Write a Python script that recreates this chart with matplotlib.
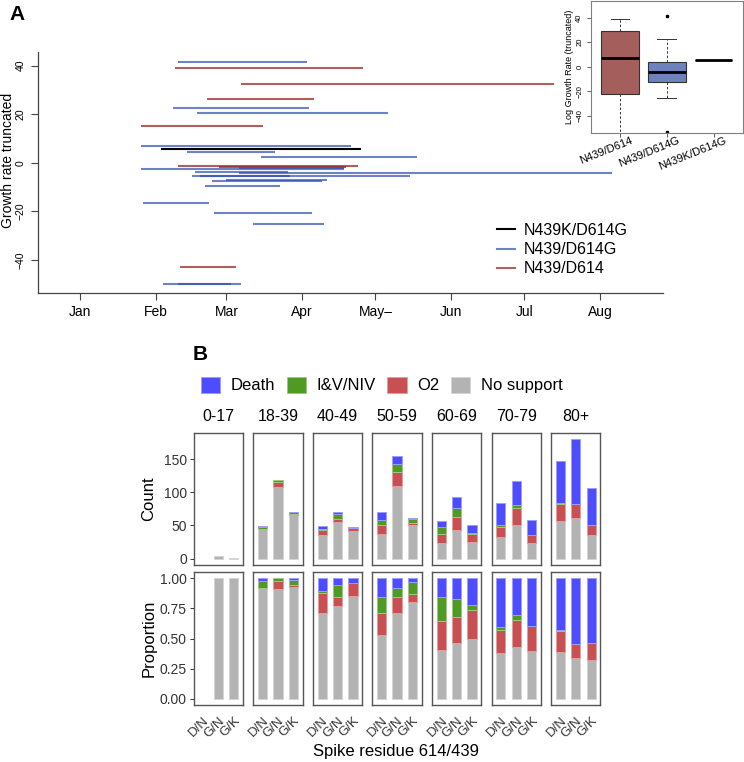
import numpy as np
import pandas as pd
import matplotlib
matplotlib.use("Agg")
import matplotlib.pyplot as plt
import matplotlib.dates as mdates
import matplotlib.transforms as mtrans
from matplotlib.lines import Line2D
from matplotlib.patches import Patch

plt.rcParams['font.family'] = ['Liberation Sans', 'DejaVu Sans']

W, H = 744, 762

def box(l, t, r, b):
    # pixel box (left, top, right, bottom) -> figure fraction rect
    return [l / W, 1 - b / H, (r - l) / W, (b - t) / H]

# ---------------- panel A data ----------------
seg_start = ["2020-02-10", "2020-02-09", "2020-03-07", "2020-02-22", "2020-02-08",
             "2020-02-18", "2020-01-26", "2020-01-26", "2020-02-03", "2020-02-14",
             "2020-03-15", "2020-02-10", "2020-02-27", "2020-01-26", "2020-03-06",
             "2020-02-17", "2020-03-06", "2020-02-16", "2020-02-19", "2020-03-01",
             "2020-02-24", "2020-02-21", "2020-01-27", "2020-02-25", "2020-03-12",
             "2020-02-11", "2020-02-04", "2020-02-10"]
seg_end = ["2020-04-03", "2020-04-26", "2020-07-13", "2020-04-06", "2020-04-04",
           "2020-05-06", "2020-03-16", "2020-04-21", "2020-04-25", "2020-03-21",
           "2020-05-18", "2020-04-24", "2020-04-19", "2020-04-18", "2020-04-18",
           "2020-03-26", "2020-08-06", "2020-05-15", "2020-03-27", "2020-04-11",
           "2020-04-09", "2020-03-23", "2020-02-23", "2020-04-05", "2020-04-10",
           "2020-03-05", "2020-03-07", "2020-03-03"]
seg_rate = [41.6, 39.1, 32.5, 26.2, 22.6,
            20.5, 15.2, 7.0, 5.5, 4.5,
            2.5, -1.3, -1.8, -2.4, -2.0,
            -4.0, -4.4, -5.3, -5.6, -6.9,
            -7.3, -9.5, -16.6, -20.8, -25.4,
            -42.8, -50.0, -50.1]
seg_group = ["N439/D614G", "N439/D614", "N439/D614", "N439/D614", "N439/D614G",
             "N439/D614G", "N439/D614", "N439/D614G", "N439K/D614G", "N439/D614G",
             "N439/D614G", "N439/D614", "N439/D614", "N439/D614G", "N439/D614G",
             "N439/D614G", "N439/D614G", "N439/D614G", "N439/D614G", "N439/D614G",
             "N439/D614G", "N439/D614G", "N439/D614G", "N439/D614G", "N439/D614G",
             "N439/D614", "N439/D614G", "N439/D614G"]

lineages = ["N439K/D614G", "N439/D614G", "N439/D614"]
lineage_col = {"N439K/D614G": (0, 0, 0, 1.0),
               "N439/D614G": (0.19, 0.31, 0.69, 0.7),
               "N439/D614": (0.59, 0.16, 0.16, 0.75)}

# inset boxplot (as shown, truncated)
box_labels = ["N439/D614", "N439/D614G", "N439K/D614G"]
box_med = [7.1, -4.6, 5.5]
box_q1 = [-22.3, -12.7, 5.5]
box_q3 = [29.4, 3.6, 5.5]
box_lo = [-60.0, -25.3, 5.5]
box_hi = [39.2, 22.4, 5.5]
box_out = [[], [41.6, -53.0], []]
box_fill = ["#A45F5C", "#6F82C0", "#000000"]

# ---------------- panel B data ----------------
ages = ["0-17", "18-39", "40-49", "50-59", "60-69", "70-79", "80+"]
variants = ["D/N", "G/N", "G/K"]
no_support = [[0, 4, 1], [45, 108, 66], [35, 55, 41], [37, 110, 50],
              [23, 43, 25], [32, 50, 23], [57, 62, 35]]
o2 = [[0, 0, 0], [0, 7, 1], [8, 5, 5], [13, 20, 4],
      [14, 20, 12], [16, 27, 12], [26, 21, 15]]
iv_niv = [[0, 0, 0], [3, 3, 3], [1, 7, 0], [9, 12, 6],
          [11, 14, 2], [2, 4, 0], [1, 0, 0]]
death = [[0, 0, 0], [1, 0, 1], [5, 4, 2], [11, 12, 2],
         [9, 16, 11], [34, 36, 23], [63, 98, 57]]

outcomes = ["No support", "O2", "I&V/NIV", "Death"]
outcome_col = {"No support": "#B3B3B3", "O2": "#C85052",
               "I&V/NIV": "#4F9A24", "Death": "#4D4DFF"}
outcome_val = {"No support": no_support, "O2": o2, "I&V/NIV": iv_niv, "Death": death}

def lighter(c, f=0.45):
    r, g, b = matplotlib.colors.to_rgb(c)
    return (r + (1 - r) * f, g + (1 - g) * f, b + (1 - b) * f)

fig = plt.figure(figsize=(W / 100, H / 100), dpi=100)

# ================= A =================
ax = fig.add_axes(box(38, 52, 663, 293))
t0 = mdates.date2num(pd.Timestamp("2020-01-01"))
xs = mdates.date2num(pd.to_datetime(seg_start))
xe = mdates.date2num(pd.to_datetime(seg_end))
for g in ["N439/D614", "N439/D614G", "N439K/D614G"]:
    idx = [i for i, s in enumerate(seg_group) if s == g]
    ax.hlines([seg_rate[i] for i in idx], xs[idx], xe[idx],
              colors=[lineage_col[g]], lw=1.5)

ax.set_xlim(t0 - 17.2, t0 + 238.8)
ax.set_ylim(-53.6, 45.6)
months = pd.date_range("2020-01-01", "2020-08-01", freq="MS")
ax.set_xticks(mdates.date2num(months))
ax.set_xticklabels(["Jan", "Feb", "Mar", "Apr", "May\u2013", "Jun", "Jul", "Aug"], fontsize=10)
ax.set_xticks(mdates.date2num(pd.date_range("2020-01-15", "2020-08-15", freq="SMS")[1::2]), minor=True)
ax.set_yticks([-40, -20, 0, 20, 40])
ax.tick_params(axis="x", which="both", length=5, width=0.8, pad=3.5, color="#444444")
ax.tick_params(axis="y", length=5, width=0.8, pad=4, labelsize=7.5, labelrotation=90, color="#444444")
for lbl in ax.get_yticklabels():
    lbl.set_va("center")
for s in ["top", "right"]:
    ax.spines[s].set_visible(False)
for s in ["left", "bottom"]:
    ax.spines[s].set_color("#444444")
    ax.spines[s].set_linewidth(0.9)
ax.set_ylabel("Growth rate truncated", fontsize=10)
ax.yaxis.set_label_coords((15 - 38) / 625, (293 - 160) / 241)

leg_handles = [Line2D([], [], color=lineage_col[g], lw=1.5) for g in lineages]
ax.legend(leg_handles, lineages, loc="upper left", bbox_to_anchor=(497 / W, 1 - 223 / H),
          bbox_transform=fig.transFigure, frameon=False, fontsize=11.5,
          handlelength=1.1, handletextpad=0.6, labelspacing=0.26,
          borderpad=0, borderaxespad=0)

fig.text(17 / W, 1 - 14 / H, "A", fontsize=15, fontweight="bold", ha="center", va="center")

# inset boxplot
ai = fig.add_axes(box(591, 1, 742.7, 132.7))
stats = []
for i in range(3):
    stats.append(dict(med=box_med[i], q1=box_q1[i], q3=box_q3[i],
                      whislo=box_lo[i], whishi=box_hi[i], fliers=box_out[i]))
bp = ai.bxp(stats, positions=[1, 2, 3], widths=0.8, patch_artist=True,
            capwidths=0.4,
            boxprops=dict(edgecolor="#333333", linewidth=0.8),
            whiskerprops=dict(linestyle=(0, (2.5, 2)), linewidth=0.7, color="#333333"),
            capprops=dict(linewidth=0.7, color="#333333"),
            medianprops=dict(color="black", linewidth=2),
            flierprops=dict(marker="s", markersize=1.6, markerfacecolor="black",
                            markeredgecolor="black"))
for p, c in zip(bp["boxes"], box_fill):
    p.set_facecolor(c)
ai.set_xlim(0.38, 3.62)
ai.set_ylim(-53.9, 53.6)
ai.set_yticks([-40, -20, 0, 20, 40])
ai.set_xticks([1, 2, 3])
ai.set_xticklabels([])
lab_tr = mtrans.blended_transform_factory(ai.transData, ai.transAxes) + \
    mtrans.ScaledTranslation(10 / 100, -3 / 100, fig.dpi_scale_trans)
for pos, lab in zip([1, 2, 3], box_labels):
    ai.text(pos, 0, lab, transform=lab_tr, rotation=22, ha="right", va="top",
            rotation_mode="anchor", fontsize=8, clip_on=False)
ai.tick_params(axis="x", length=3, width=0.6, color="#444444")
ai.tick_params(axis="y", length=3, width=0.6, pad=2.5, labelsize=5.5, labelrotation=90, color="#444444")
for lbl in ai.get_yticklabels():
    lbl.set_va("center")
for s in ai.spines.values():
    s.set_color("#808080")
    s.set_linewidth(0.8)
ai.set_ylabel("Log Growth Rate (truncated)", fontsize=6.5, labelpad=2)

# ================= B =================
fig.text(200 / W, 1 - 354 / H, "B", fontsize=15, fontweight="bold", ha="center", va="center")

pitch = 59.55
width = 49.3
x = np.arange(1, 4)
for i, age in enumerate(ages):
    l = 193.8 + i * pitch
    ac = fig.add_axes(box(l, 432.5, l + width, 564.7))
    ap = fig.add_axes(box(l, 572.3, l + width, 705))
    tot = np.sum([outcome_val[o][i] for o in outcomes], axis=0).astype(float)
    bc = np.zeros(3)
    bpz = np.zeros(3)
    for o in outcomes:
        v = np.array(outcome_val[o][i], dtype=float)
        pr = np.divide(v, tot, out=np.zeros(3), where=tot > 0)
        keep = v > 0
        if keep.any():
            ac.bar(x[keep], v[keep], bottom=bc[keep], width=0.6, color=outcome_col[o],
                   edgecolor=lighter(outcome_col[o]), linewidth=0.7)
            ap.bar(x[keep], pr[keep], bottom=bpz[keep], width=0.6, color=outcome_col[o],
                   edgecolor=lighter(outcome_col[o]), linewidth=0.7)
        bc += v
        bpz += pr
    ac.set_ylim(-9.05, 190.05)
    ap.set_ylim(-0.05, 1.05)
    for a in (ac, ap):
        a.set_xlim(0.4, 3.6)
        for s in a.spines.values():
            s.set_color("#555555")
            s.set_linewidth(1.0)
        a.tick_params(axis="y", length=3, width=0.7, color="#333333", labelsize=10,
                      labelcolor="#333333", pad=2)
    ac.set_xticks([])
    ap.set_xticks(x)
    ap.set_xticklabels(variants, rotation=45, ha="right", va="top",
                       rotation_mode="anchor", fontsize=9.5, color="#333333")
    ap.tick_params(axis="x", length=0, pad=7)
    ac.set_yticks([0, 50, 100, 150])
    ap.set_yticks([0, 0.25, 0.5, 0.75, 1.0])
    if i == 0:
        ap.set_yticklabels(["0.00", "0.25", "0.50", "0.75", "1.00"])
    else:
        ac.set_yticks([])
        ap.set_yticks([])
    fig.text((l + width / 2) / W, 1 - 416.7 / H, age, fontsize=11.5,
             ha="center", va="center")

fig.text(149 / W, 1 - 498.6 / H, "Count", fontsize=12, rotation=90, ha="center", va="center")
fig.text(149 / W, 1 - 638.7 / H, "Proportion", fontsize=12, rotation=90, ha="center", va="center")
fig.text(396 / W, 1 - 751.7 / H, "Spike residue 614/439", fontsize=12, ha="center", va="center")

leg_order = ["Death", "I&V/NIV", "O2", "No support"]
handles = [Patch(facecolor=outcome_col[o], edgecolor=lighter(outcome_col[o]), linewidth=0.7)
           for o in leg_order]
fig.legend(handles, leg_order, ncol=4, loc="center left",
           bbox_to_anchor=(200.7 / W, 1 - 385 / H), frameon=False, fontsize=12,
           handlelength=1.15, handleheight=1.15, handletextpad=0.64,
           columnspacing=0.7, borderpad=0, borderaxespad=0)

fig.savefig("out.png", dpi=100)
